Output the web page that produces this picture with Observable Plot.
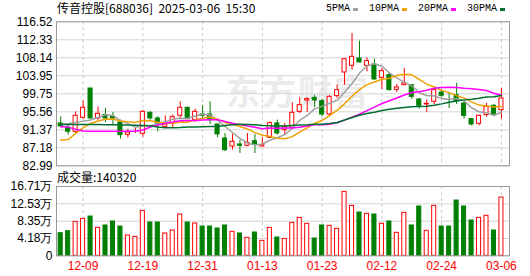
<!DOCTYPE html>
<html><head><meta charset="utf-8">
<script src="https://cdn.jsdelivr.net/npm/d3@7"></script>
<script src="https://cdn.jsdelivr.net/npm/@observablehq/plot@0.6"></script>
<style>
body{margin:0;background:#fff;}
#wrap{position:relative;width:530px;height:276px;overflow:hidden;font-family:"Liberation Sans",Arial,sans-serif;}
.abs{position:absolute;white-space:nowrap;line-height:1;}
#wrap svg{position:absolute;left:0;}
</style></head><body><div id="wrap"></div>
<script>
const dates = ["12-04","12-05","12-06","12-09","12-10","12-11","12-12","12-13","12-16","12-17","12-18","12-19","12-20","12-23","12-24","12-25","12-26","12-27","12-30","12-31","01-02","01-03","01-06","01-07","01-08","01-09","01-10","01-13","01-14","01-15","01-16","01-17","01-20","01-21","01-22","01-23","01-24","01-27","02-05","02-06","02-07","02-10","02-11","02-12","02-13","02-14","02-17","02-18","02-19","02-20","02-21","02-24","02-25","02-26","02-27","02-28","03-03","03-04","03-05","03-06"];
const open = [92.85,91.84,90.91,94.17,100.99,94.01,94.79,94.40,93.08,90.21,91.00,90.44,95.33,94.01,92.07,92.77,94.63,96.49,93.62,94.94,94.94,92.61,89.35,87.49,87.96,87.65,88.73,87.49,89.51,92.85,91.29,91.84,95.56,98.20,98.82,98.05,94.94,99.21,104.72,106.27,107.98,106.27,106.58,103.48,104.10,100.68,101.77,101.77,98.43,97.27,97.89,100.06,97.89,99.44,97.50,93.86,92.77,94.79,96.96,95.95];
const high = [94.40,92.61,95.56,98.05,101.00,96.73,96.34,95.41,93.62,91.53,91.68,95.87,95.56,94.40,94.63,94.79,97.89,96.65,96.18,96.96,97.89,92.61,90.52,90.29,88.96,90.52,90.29,89.51,93.23,93.62,92.85,97.73,98.82,98.82,99.44,98.51,99.44,101.77,107.98,113.80,112.01,108.13,107.82,105.65,104.49,101.93,105.65,101.93,98.67,98.28,100.84,100.61,99.83,102.16,97.89,94.01,94.79,97.50,97.27,100.99];
const low = [91.84,90.13,90.52,93.86,93.90,93.62,93.08,92.61,89.20,89.51,90.52,89.66,93.62,90.91,91.84,91.68,94.01,93.78,93.08,94.01,92.61,89.51,86.25,86.64,85.86,87.41,85.86,87.41,89.35,90.13,90.13,91.68,95.18,95.41,96.49,94.40,94.63,98.67,101.77,105.26,107.00,104.87,102.93,100.76,100.37,100.06,101.62,98.51,96.18,95.41,97.27,98.82,96.34,97.27,93.86,92.30,92.30,94.32,94.63,93.86];
const close = [92.15,90.91,94.63,96.49,94.01,95.10,94.01,94.01,90.13,90.75,91.00,95.56,94.01,92.85,92.61,94.32,96.49,93.86,95.56,94.63,93.62,90.29,86.64,88.58,87.65,88.34,87.96,87.80,92.92,90.52,92.07,95.33,97.11,98.51,98.20,94.94,99.05,100.61,107.82,108.37,107.05,107.36,103.09,105.03,100.61,101.23,102.16,99.05,96.96,97.42,100.61,99.29,97.89,98.05,94.63,92.61,94.63,96.73,94.94,98.67];
const volume = [54600,59400,81900,89100,94700,67400,73100,82700,70600,48900,45700,108400,80300,80300,53800,61000,99600,80300,77900,70600,70600,65800,73100,57800,53800,43300,56200,36100,67400,44100,40900,79500,91500,77100,41700,73100,72300,65000,154200,120500,104400,101200,99600,77100,82700,55400,103600,73100,118900,60200,120500,70600,70600,133300,118900,85100,91500,96400,61000,140320];
const ma5 = [92.61,92.77,93.08,93.39,93.64,94.23,94.85,94.72,93.45,92.80,91.96,92.27,92.27,92.82,93.19,93.87,94.06,94.03,94.57,94.97,94.83,93.59,92.15,90.75,89.36,88.30,87.83,88.07,88.93,89.51,90.25,91.73,93.59,94.71,96.24,96.82,97.56,98.26,100.12,102.16,104.58,106.24,106.74,106.18,104.63,103.46,102.42,101.62,100.00,99.36,99.24,98.67,98.45,98.67,98.11,96.51,95.58,95.33,94.71,95.52];
const ma10 = [88.96,89.10,90.52,91.84,92.85,93.42,93.81,93.90,93.42,93.22,93.10,93.56,93.50,93.13,92.99,92.92,93.16,93.15,93.69,94.08,94.35,93.82,93.09,92.66,92.16,91.57,90.71,90.11,89.84,89.43,89.28,89.78,90.83,91.82,92.88,93.54,94.65,95.93,97.42,99.20,100.70,101.90,102.50,103.15,103.39,104.02,104.33,104.18,103.09,102.00,101.35,100.55,100.03,99.33,98.74,97.87,97.12,96.89,96.69,96.81];
const ma20 = [92.07,92.00,91.50,91.10,91.06,91.06,91.06,91.06,91.06,91.06,91.03,91.33,92.01,92.49,92.92,93.17,93.49,93.53,93.56,93.65,93.72,93.69,93.29,92.90,92.58,92.24,91.94,91.63,91.77,91.76,91.81,91.80,91.96,92.24,92.52,92.55,92.68,93.02,93.63,94.32,94.99,95.84,96.66,97.49,98.13,98.78,99.49,100.05,100.25,100.60,101.03,101.22,101.27,101.24,101.06,100.95,100.73,100.53,99.89,99.40];
const ma30 = [92.60,92.60,92.60,92.60,92.60,92.60,92.55,92.55,92.50,92.50,92.45,92.40,92.30,92.00,91.85,91.85,91.90,92.00,92.05,92.10,92.13,92.16,92.37,92.55,92.67,92.63,92.56,92.39,92.32,92.24,92.24,92.39,92.47,92.54,92.68,92.67,92.84,93.06,93.65,94.24,94.78,95.17,95.47,95.88,96.14,96.37,96.56,96.74,96.78,96.88,97.11,97.41,97.79,98.10,98.34,98.48,98.70,99.00,99.06,99.34];
const priceTicks = [82.99,87.18,91.37,95.56,99.75,103.95,108.14,112.33,116.52];
const volTicks = [0,41800,83500,125300,167100];
const volTickLabels = ["0","4.18万","8.35万","12.53万","16.71万"];
const xTickLabels = ["12-09","12-19","12-31","01-13","01-23","02-12","02-24","03-06"];
const maNames = ["5PMA","10PMA","20PMA","30PMA"];
const titleText = "传音控股[688036]  2025-03-06  15:30";
const volLabel = "成交量:140320";

const RED = "#ff0000", GREEN = "#008000";
const maColors = ["#a0a0a0","#f0a000","#ff00ff","#006e33"];
const rows = dates.map((d,i)=>({i, date:d, open:open[i], high:high[i], low:low[i], close:close[i], vol:volume[i],
  ma5:ma5[i], ma10:ma10[i], ma20:ma20[i], ma30:ma30[i],
  up: close[i] > open[i] || (close[i] === open[i] && close[i] >= (i>0 ? close[i-1] : close[i]))}));
const upRows = rows.filter(d=>d.up), downRows = rows.filter(d=>!d.up);
const tickIdx = xTickLabels.map(t=>dates.indexOf(t));
const volLabelMap = new Map(volTicks.map((v,k)=>[v, volTickLabels[k]]));
const xDomain = [-0.56, 60.08];
const x1 = d=>d.i-0.5, x2 = d=>d.i+0.5;
const style = {background:"transparent", fontFamily:"'Liberation Sans', Arial, sans-serif", fontSize:"12px", color:"#000", overflow:"visible"};

const wrap = document.getElementById("wrap");

// watermark
const wm = document.createElement("div");
wm.className = "abs";
wm.textContent = "东方财富";
Object.assign(wm.style, {left:"226px", top:"74px", fontSize:"34px", color:"#ebebeb", fontWeight:"bold", fontFamily:"'Noto Sans CJK SC', sans-serif", letterSpacing:"2px"});
wrap.appendChild(wm);

const price = Plot.plot({
  width:530, height:170, marginLeft:56, marginRight:21, marginTop:21.3, marginBottom:4.7,
  style,
  x:{domain:xDomain, axis:null},
  y:{domain:[82.99,116.52], axis:null},
  marks:[
    Plot.gridY(priceTicks, {stroke:"#d4d4d4", strokeOpacity:1}),
    Plot.ruleX(tickIdx, {stroke:"#c8c8c8", strokeDasharray:"3,3"}),
    Plot.axisY(priceTicks, {tickSize:0, tickPadding:4, tickFormat:d=>d.toFixed(2), fontSize:12, fill:"#000", label:null}),
    Plot.ruleX(upRows, {x:"i", y1:"low", y2:"high", stroke:RED}),
    Plot.ruleX(downRows, {x:"i", y1:"low", y2:"high", stroke:GREEN}),
    Plot.rect(upRows, {x1, x2, y1:"open", y2:"close", insetLeft:1.7, insetRight:1.7, fill:"white", stroke:RED}),
    Plot.rect(downRows, {x1, x2, y1:"open", y2:"close", insetLeft:1.7, insetRight:1.7, fill:GREEN, stroke:GREEN}),
    Plot.line(rows, {x:"i", y:"ma5", stroke:maColors[0]}),
    Plot.line(rows, {x:"i", y:"ma10", stroke:maColors[1]}),
    Plot.line(rows, {x:"i", y:"ma20", stroke:maColors[2]}),
    Plot.line(rows, {x:"i", y:"ma30", stroke:maColors[3]}),
    Plot.frame({stroke:"#999"})
  ]
});
price.style.top = "0px";
wrap.appendChild(price);

const vol = Plot.plot({
  width:530, height:106, marginLeft:56, marginRight:21, marginTop:16, marginBottom:20.7,
  style,
  x:{domain:xDomain, axis:null},
  y:{domain:[0,167100], axis:null},
  marks:[
    Plot.gridY(volTicks, {stroke:"#d4d4d4", strokeOpacity:1}),
    Plot.ruleX(tickIdx, {stroke:"#c8c8c8", strokeDasharray:"3,3"}),
    Plot.axisY(volTicks, {tickSize:0, tickPadding:4, tickFormat:d=>volLabelMap.get(d), fontSize:12, fill:"#000", label:null}),
    Plot.axisX(tickIdx, {tickSize:0, tickPadding:6, tickFormat:i=>dates[i], fontSize:12, fill:RED, label:null}),
    Plot.rect(upRows, {x1, x2, y1:()=>0, y2:"vol", insetLeft:1.7, insetRight:1.7, fill:"white", stroke:RED}),
    Plot.rect(downRows, {x1, x2, y1:()=>0, y2:"vol", insetLeft:1.7, insetRight:1.7, fill:GREEN, stroke:GREEN}),
    Plot.frame({stroke:"#999"})
  ]
});
vol.style.top = "170px";
wrap.appendChild(vol);

// title
const t = document.createElement("div");
t.className = "abs";
t.textContent = titleText;
Object.assign(t.style, {left:"57px", top:"2px", fontSize:"12px", color:"#000", fontFamily:"'Noto Sans CJK SC', sans-serif", whiteSpace:"pre"});
wrap.appendChild(t);

// legend
const lg = document.createElement("div");
lg.className = "abs";
Object.assign(lg.style, {left:"326px", top:"4px", fontSize:"10px", fontFamily:"'Liberation Mono', monospace", color:"#000", display:"flex", alignItems:"center"});
maNames.forEach((n,k)=>{
  const s = document.createElement("span");
  s.textContent = n;
  s.style.marginRight = "3px";
  const sw = document.createElement("span");
  Object.assign(sw.style, {display:"inline-block", width:"5px", height:"3px", background:maColors[k], marginRight: k<3 ? "11px" : "0"});
  lg.appendChild(s); lg.appendChild(sw);
});
wrap.appendChild(lg);

// volume label
const vl = document.createElement("div");
vl.className = "abs";
vl.textContent = volLabel;
Object.assign(vl.style, {left:"57px", top:"171px", fontSize:"12px", color:"#000", fontFamily:"'Noto Sans CJK SC', sans-serif"});
wrap.appendChild(vl);
</script></body></html>
